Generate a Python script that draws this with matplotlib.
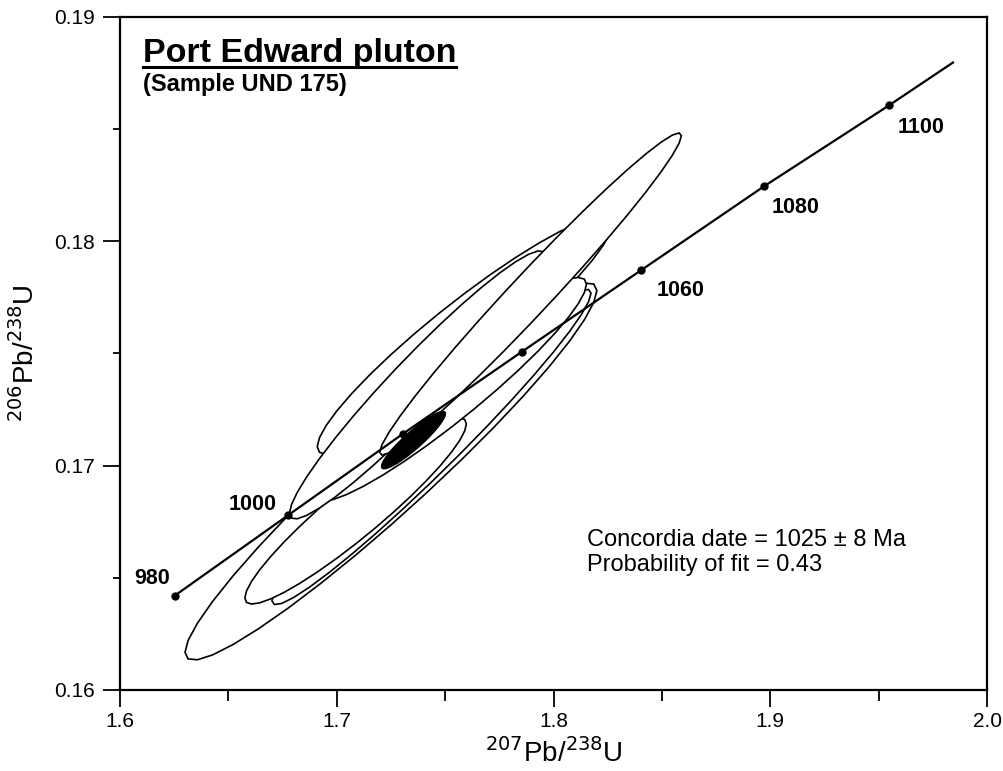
import numpy as np
import matplotlib
matplotlib.use('Agg')
import matplotlib.pyplot as plt
from matplotlib.patches import Polygon

plt.rcParams['font.family'] = ['Liberation Sans', 'DejaVu Sans']

# concordia curve, points every 20 Ma
conc_age = [980, 1000, 1020, 1040, 1060, 1080, 1100]
conc_x = [1.6252, 1.6776, 1.7307, 1.7853, 1.8404, 1.8971, 1.9548]
conc_y = [0.16420, 0.16779, 0.17143, 0.17507, 0.17871, 0.18245, 0.18606]
conc_end_x = 1.9843
conc_end_y = 0.18797
labelled_ages = [980, 1000, 1060, 1080, 1100]

# zircon analyses: centre, half-extent x/y of the error ellipse, correlation
ell_x = [1.7250, 1.7437, 1.7087, 1.7590, 1.7525, 1.7373, 1.7894]
ell_y = [0.16974, 0.17083, 0.16798, 0.17580, 0.17340, 0.17360, 0.17765]
ell_sx = [0.0950, 0.0736, 0.0511, 0.0680, 0.0627, 0.0591, 0.0696]
ell_sy = [0.00841, 0.00703, 0.00415, 0.00530, 0.00499, 0.00598, 0.00718]
ell_rho = [0.959, 0.975, 0.935, 0.935, 0.939, 0.958, 0.983]

# concordia age ellipse (1025 +/- 8 Ma)
mean_x, mean_y = 1.7354, 0.17114
mean_sx, mean_sy, mean_rho = 0.01476, 0.00128, 0.919


def ellipse_pts(cx, cy, sx, sy, rho, n=37):
    t = np.linspace(0, 2 * np.pi, n)
    px = cx + sx * np.cos(t)
    py = cy + sy * (rho * np.cos(t) + np.sqrt(1 - rho ** 2) * np.sin(t))
    return np.column_stack([px, py])


fig = plt.figure(figsize=(10.04, 7.71), dpi=100)
ax = fig.add_axes([0.1195, 0.1051, 0.8636, 0.8729])

# ellipses, white filled so later ones hide earlier ones
for i in range(len(ell_x)):
    pts = ellipse_pts(ell_x[i], ell_y[i], ell_sx[i], ell_sy[i], ell_rho[i])
    ax.add_patch(Polygon(pts, closed=True, facecolor='white', edgecolor='black',
                         lw=1.2, zorder=2 + i * 0.01))

pts = ellipse_pts(mean_x, mean_y, mean_sx, mean_sy, mean_rho)
ax.add_patch(Polygon(pts, closed=True, facecolor='black', edgecolor='black',
                     lw=1.0, zorder=3))

# concordia
ax.plot(conc_x + [conc_end_x], conc_y + [conc_end_y], color='black', lw=1.6, zorder=4)
ax.plot(conc_x, conc_y, 'o', color='black', ms=5, zorder=5)

label_off = {980: (-5, 12, 'right'), 1000: (-12, 5, 'right'),
             1060: (16, -26, 'left'), 1080: (8, -27, 'left'), 1100: (9, -28, 'left')}
for age, x, y in zip(conc_age, conc_x, conc_y):
    if age in labelled_ages:
        dx, dy, ha = label_off[age]
        ax.annotate(str(age), (x, y), xytext=(dx, dy), textcoords='offset pixels',
                    ha=ha, va='baseline', fontsize=15.5, fontweight='bold', zorder=6)

ax.set_xlim(1.6, 2.0)
ax.set_ylim(0.16, 0.19)
ax.set_xticks([1.6, 1.7, 1.8, 1.9, 2.0])
ax.set_xticklabels(['1.6', '1.7', '1.8', '1.9', '2.0'])
ax.set_xticks([1.65, 1.75, 1.85, 1.95], minor=True)
ax.set_yticks([0.16, 0.17, 0.18, 0.19])
ax.set_yticklabels(['0.16', '0.17', '0.18', '0.19'])
ax.set_yticks([0.165, 0.175, 0.185], minor=True)

ax.tick_params(which='both', direction='out', width=1.3, labelsize=15, top=False, right=False)
ax.tick_params(axis='x', which='major', length=12, pad=4)
ax.tick_params(axis='x', which='minor', length=8)
ax.tick_params(axis='y', which='major', length=12, pad=6)
ax.tick_params(axis='y', which='minor', length=5)
for s in ax.spines.values():
    s.set_linewidth(1.6)

ax.set_xlabel(r'$^{207}$Pb/$^{238}$U', fontsize=20, labelpad=5)
ax.set_ylabel(r'$^{206}$Pb/$^{238}$U', fontsize=20, labelpad=10)

title = ax.text(0.0265, 0.933, 'Port Edward pluton', transform=ax.transAxes,
                fontsize=24.5, fontweight='bold', va='baseline')
ax.text(0.0265, 0.8906, '(Sample UND 175)', transform=ax.transAxes,
        fontsize=17, fontweight='bold', va='baseline')

ax.text(0.5386, 0.214, 'Concordia date = 1025 \u00b1 8 Ma', transform=ax.transAxes,
        fontsize=17, va='baseline')
ax.text(0.5386, 0.1768, 'Probability of fit = 0.43', transform=ax.transAxes,
        fontsize=17, va='baseline')

# underline the title
fig.canvas.draw()
bb = title.get_window_extent().transformed(ax.transAxes.inverted())
ax.plot([bb.x0, bb.x1], [0.9257, 0.9257], transform=ax.transAxes, color='black',
        lw=2.2, clip_on=False)

fig.savefig('out.png', dpi=100)
